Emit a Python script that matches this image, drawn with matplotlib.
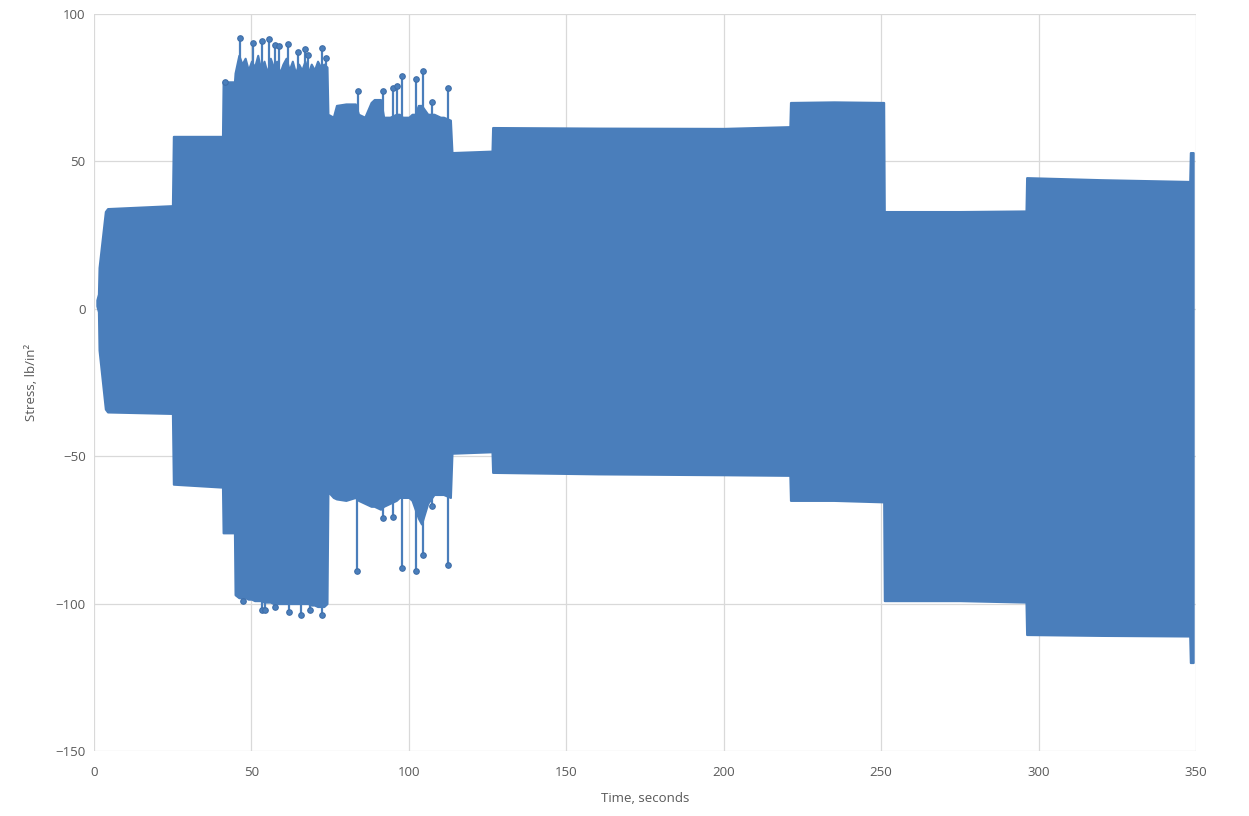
import numpy as np
import matplotlib.pyplot as plt

# Envelope of the stress record (upper and lower extremes vs. time)
env_t = [0.9, 1.4, 1.6, 3.6, 4.3, 24.9,
         25.2, 40.8,
         41.0, 44.6,
         44.8, 46.0, 47.0, 48.0, 49.0, 50.0, 51.0, 52.0, 53.0, 54.0, 55.0, 56.0,
         57.0, 58.0, 59.0, 60.0, 61.0, 62.0, 63.0, 64.0, 65.0, 66.0, 67.0, 68.0,
         69.0, 70.0, 71.0, 72.0, 73.0, 74.0,
         74.3, 76.0, 77.0, 80.0, 83.0, 84.0, 86.0, 88.0, 89.0, 91.0, 92.0, 94.0,
         96.0, 97.0, 98.0, 100.0, 101.0, 102.0, 103.0, 104.0, 106.0, 108.0,
         110.0, 111.0, 113.2,
         113.7, 126.4,
         126.6, 160.0, 200.0, 221.0,
         221.2, 235.0, 250.8,
         251.0, 275.0, 296.0,
         296.2, 320.0, 348.0,
         348.2, 349.1]
env_hi = [3, 5, 14, 33, 34, 35,
          58.5, 58.5,
          77, 77,
          80, 86, 83, 85, 81, 84, 82, 86, 81, 84, 80, 85,
          82, 84, 80, 83, 85, 81, 84, 80, 83, 81, 84, 80,
          83, 81, 84, 82, 83, 82,
          66, 65, 69, 69.5, 69.5, 66, 65, 70, 71, 71, 65, 65,
          66, 66, 65, 65, 66, 66, 69, 69, 66, 66,
          65, 65, 64,
          53, 53.5,
          61.5, 61.3, 61.2, 61.8,
          70, 70.2, 70,
          33, 33, 33.2,
          44.5, 43.8, 43.2,
          53, 53]
env_lo = [1, -1, -14, -34, -35, -35.5,
          -59.5, -60.5,
          -76, -76,
          -97, -98, -98, -98, -98.5, -98.5, -99, -99, -99, -99.5, -99.5, -99.5,
          -100, -100, -100, -100, -100, -100, -100, -100, -100, -100, -100, -100,
          -100.5, -100.5, -101, -101, -101, -100,
          -62, -64, -64.5, -65, -64, -65, -66, -67, -67, -68, -67, -66,
          -65, -64, -64, -64, -65, -68, -71, -73, -66, -63,
          -63, -63, -64,
          -49, -48.5,
          -55.5, -56, -56.3, -56.5,
          -65, -65, -65.5,
          -99, -99, -99.5,
          -110.5, -110.8, -111,
          -120, -120]

# Isolated peaks above the envelope
up_t = [41.6, 46.4, 50.6, 53.2, 55.6, 57.5, 58.9, 61.7, 64.9, 67.0, 68.0, 72.3,
        73.6, 83.9, 91.7, 95.0, 96.3, 97.7, 102.3, 104.6, 107.5, 112.3]
up_v = [77, 92, 90, 91, 91.5, 89.5, 89, 89.7, 87, 88, 86, 88.4,
        85, 74, 74, 75, 75.5, 79, 78, 80.5, 70, 75]

# Isolated troughs below the envelope
dn_t = [47.4, 53.2, 54.3, 57.5, 61.9, 65.9, 68.6, 72.5,
        83.4, 91.9, 95.0, 97.7, 102.2, 104.6, 107.5, 112.3]
dn_v = [-99, -102.3, -102.3, -101, -103, -103.7, -102.3, -104,
        -89, -71, -70.5, -88, -89, -83.5, -67, -87]

blue = '#4a7ebb'
dark = '#3f6ea8'
grey = '#595959'

plt.rcParams['font.family'] = ['Open Sans', 'DejaVu Sans']

fig = plt.figure(figsize=(12.49, 8.16), dpi=100)
ax = fig.add_axes([94 / 1249, 1 - 751 / 816, 1102 / 1249, 737 / 816])

ax.fill_between(env_t, env_lo, env_hi, color=blue, edgecolor=blue, linewidth=1.5, zorder=2)
ax.vlines(up_t, 0, up_v, color=blue, linewidth=1.6, zorder=2)
ax.vlines(dn_t, 0, dn_v, color=blue, linewidth=1.6, zorder=2)
ax.plot(up_t, up_v, 'o', ms=4, color=blue, mec=dark, mew=0.8, zorder=3)
ax.plot(dn_t, dn_v, 'o', ms=4, color=blue, mec=dark, mew=0.8, zorder=3)

ax.set_xlim(0, 350)
ax.set_ylim(-150, 100)
ax.set_xticks(np.arange(0, 351, 50))
ax.set_yticks(np.arange(-150, 101, 50))
ax.grid(True, color='#d9d9d9', linewidth=0.9, zorder=0)
ax.set_axisbelow(True)
for s in ax.spines.values():
    s.set_visible(False)
ax.tick_params(length=0, labelsize=9.5, labelcolor=grey)
ax.tick_params(axis='x', pad=11)
ax.tick_params(axis='y', pad=6)

ax.set_xlabel('Time, seconds', fontsize=9.5, color=grey)
ax.set_ylabel('Stress, lb/in²', fontsize=9.5, color=grey)
ax.xaxis.set_label_coords(0.5, -0.055)
ax.yaxis.set_label_coords(-0.051, 0.5)

fig.savefig('out.png', dpi=100)
